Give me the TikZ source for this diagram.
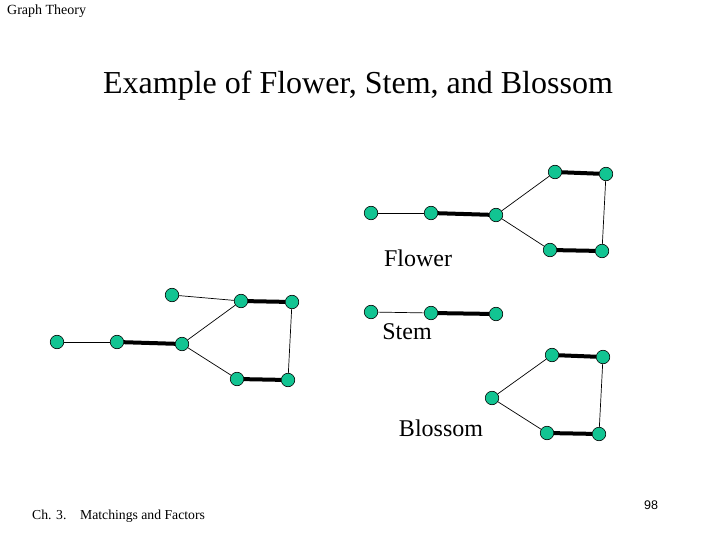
\documentclass[tikz,border=0pt]{standalone}
\usepackage{fontspec}
\setmainfont{Liberation Serif}
\newfontfamily\numfont{Liberation Sans}
\definecolor{vgreen}{RGB}{18,196,146}
\tikzset{
  vtx/.style={draw, circle, fill=vgreen, inner sep=0pt, minimum size=13.5pt, line width=0.6pt},
  thin/.style={line width=0.7pt},
  match/.style={line width=4pt},
  lbl/.style={font=\fontsize{24}{28}\selectfont, inner sep=0pt},
}
\begin{document}
\begin{tikzpicture}[x=1pt, y=-1pt]
\useasboundingbox (0,0) rectangle (720,540);

\node[anchor=north west, font=\fontsize{14}{16}\selectfont, inner sep=0pt] (head) at (7,5) {Graph Theory};
\node[font=\fontsize{32}{36}\selectfont] (title) at (358,86) {Example of Flower, Stem, and Blossom};
\node[anchor=west, font=\fontsize{13.7}{16}\selectfont, inner sep=0pt] (chap) at (32,516) {Ch. 3.\quad Matchings and Factors};
\node[font=\numfont\fontsize{12.5}{14}\selectfont, inner sep=0pt] (page) at (651,505) {98};

% flower
\node[vtx] (f1) at (371,213) {};
\node[vtx] (f2) at (431,213) {};
\node[vtx] (f3) at (496,215) {};
\node[vtx] (f4) at (555,172) {};
\node[vtx] (f5) at (606,174) {};
\node[vtx] (f6) at (550,250) {};
\node[vtx] (f7) at (602,251) {};
\node[lbl] (flower) at (418,258) {Flower};

% stem
\node[vtx] (s1) at (371,312) {};
\node[vtx] (s2) at (431,313) {};
\node[vtx] (s3) at (496,314) {};
\node[lbl] (stem) at (407,332) {Stem};

% blossom
\node[vtx] (b1) at (492,398) {};
\node[vtx] (b2) at (552,355) {};
\node[vtx] (b3) at (603,357) {};
\node[vtx] (b4) at (547,433) {};
\node[vtx] (b5) at (599,434) {};
\node[lbl] (blossom) at (441,428) {Blossom};

% graph with a matching
\node[vtx] (g1) at (172,295) {};
\node[vtx] (g2) at (241,301) {};
\node[vtx] (g3) at (292,302) {};
\node[vtx] (g4) at (57,342) {};
\node[vtx] (g5) at (117,342) {};
\node[vtx] (g6) at (182,344) {};
\node[vtx] (g7) at (237,379) {};
\node[vtx] (g8) at (288,380) {};

\foreach \a/\b in {f1/f2,f3/f4,f5/f7,f6/f3,s1/s2,b1/b2,b3/b5,b4/b1,g1/g2,g3/g8,g7/g6,g6/g2,g5/g4}
  \draw[thin] (\a) -- (\b);
\foreach \a/\b in {f2/f3,f4/f5,f7/f6,s2/s3,b2/b3,b5/b4,g2/g3,g8/g7,g6/g5}
  \draw[match] (\a) -- (\b);

\end{tikzpicture}
\end{document}
